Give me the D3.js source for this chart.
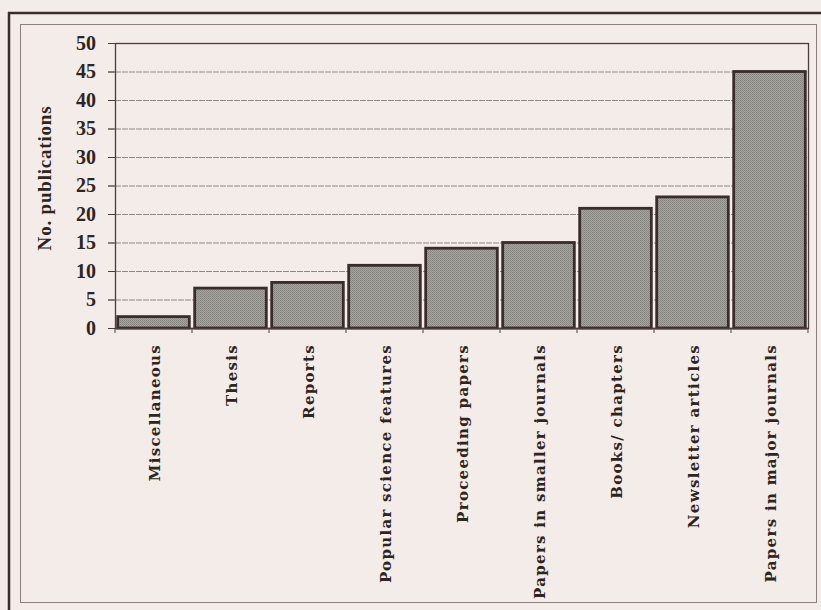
<!DOCTYPE html>
<html>
<head>
<meta charset="utf-8">
<script src="https://cdn.jsdelivr.net/npm/d3@7/dist/d3.min.js"></script>
<style>
  html, body { margin: 0; padding: 0; background: #f3ece8; }
  #chart { width: 821px; height: 610px; }
</style>
</head>
<body>
<div id="chart"></div>
<script>
// publication types and counts
const categories = [
    'Miscellaneous', 'Thesis', 'Reports', 'Popular science features',
    'Proceeding papers', 'Papers in smaller journals', 'Books/ chapters',
    'Newsletter articles', 'Papers in major journals'
];
const counts = [2, 7, 8, 11, 14, 15, 21, 23, 45];
const yTicks = [0, 5, 10, 15, 20, 25, 30, 35, 40, 45, 50];

const width = 821;
const height = 610;
const margin = { top: 43, right: 13, bottom: 282, left: 115 };
const ink = '#2e2422';

const svg = d3.select('#chart')
    .append('svg')
    .attr('width', width)
    .attr('height', height);

// dithered grey like the printed bars
const defs = svg.append('defs');
const pat = defs.append('pattern')
    .attr('id', 'dither')
    .attr('width', 2).attr('height', 2)
    .attr('patternUnits', 'userSpaceOnUse');
pat.append('rect').attr('width', 2).attr('height', 2).attr('fill', '#a6a49e');
pat.append('rect').attr('width', 1).attr('height', 1).attr('fill', '#84837d');
pat.append('rect').attr('x', 1).attr('y', 1).attr('width', 1).attr('height', 1).attr('fill', '#8d8c86');

// outer frame (thick top + left) and thin inner frame
svg.append('line')
    .attr('x1', 8).attr('x2', width).attr('y1', 13).attr('y2', 13)
    .style('stroke', '#3a2e2c').style('stroke-width', 2.5);
svg.append('line')
    .attr('x1', 9).attr('x2', 9).attr('y1', 12).attr('y2', height)
    .style('stroke', '#3a2e2c').style('stroke-width', 2.5);
svg.append('rect')
    .attr('x', 20.5).attr('y', 24.5)
    .attr('width', 796).attr('height', 578)
    .style('fill', 'none')
    .style('stroke', '#8a807e')
    .style('stroke-width', 1);

const x = d3.scaleBand()
    .domain(categories)
    .range([margin.left, width - margin.right])
    .paddingInner(0.07)
    .paddingOuter(0.035);

const y = d3.scaleLinear()
    .domain([0, 50])
    .range([height - margin.bottom, margin.top]);

// gridlines
svg.append('g')
    .selectAll('line')
    .data(yTicks.filter(d => d > 0 && d < 50))
    .join('line')
    .attr('x1', margin.left - 7)
    .attr('x2', width - margin.right)
    .attr('y1', d => y(d) + 0.5)
    .attr('y2', d => y(d) + 0.5)
    .style('stroke', '#8f8886')
    .style('stroke-width', 1)
    .style('stroke-dasharray', '6,1');

// plot border
svg.append('rect')
    .attr('x', margin.left + 0.5)
    .attr('y', y(50) + 0.5)
    .attr('width', width - margin.right - margin.left)
    .attr('height', y(0) - y(50))
    .style('fill', 'none')
    .style('stroke', '#4a3e3c')
    .style('stroke-width', 1.3);

// y axis
const yAxis = svg.append('g')
    .attr('transform', 'translate(' + margin.left + ',0)')
    .call(d3.axisLeft(y).tickValues(yTicks).tickSize(7).tickPadding(12));
yAxis.select('.domain').remove();
yAxis.selectAll('line').style('stroke', '#4a3e3c');
yAxis.selectAll('text')
    .style('font-family', '"Liberation Serif", "Times New Roman", serif')
    .style('font-weight', 'bold')
    .style('font-size', '20px')
    .style('fill', ink);

// y-axis label
svg.append('text')
    .attr('transform', 'translate(51,178)rotate(-90)')
    .attr('text-anchor', 'middle')
    .style('font-family', '"Liberation Serif", "Times New Roman", serif')
    .style('font-weight', 'bold')
    .style('font-size', '19px')
    .style('letter-spacing', '0.8px')
    .style('fill', ink)
    .text('No. publications');

// bars
svg.append('g')
    .selectAll('rect')
    .data(categories)
    .join('rect')
    .attr('x', d => x(d))
    .attr('y', (d, i) => y(counts[i]))
    .attr('width', x.bandwidth())
    .attr('height', (d, i) => y(0) - y(counts[i]))
    .style('fill', 'url(#dither)')
    .style('stroke', '#3a2c2a')
    .style('stroke-width', 2.8);

// baseline and category separator ticks
const half = x.step() * x.paddingInner() / 2;
svg.append('line')
    .attr('x1', margin.left).attr('x2', width - margin.right)
    .attr('y1', y(0) + 0.5).attr('y2', y(0) + 0.5)
    .style('stroke', '#4a3e3c').style('stroke-width', 1.3);
svg.append('g')
    .selectAll('line')
    .data(categories.concat(['end']))
    .join('line')
    .attr('x1', (d, i) => i < categories.length ? x(d) - half : x(categories[i - 1]) + x.bandwidth() + half)
    .attr('x2', (d, i) => i < categories.length ? x(d) - half : x(categories[i - 1]) + x.bandwidth() + half)
    .attr('y1', y(0))
    .attr('y2', y(0) + 5)
    .style('stroke', '#4a3e3c')
    .style('stroke-width', 1);

// category labels, rotated
svg.append('g')
    .selectAll('text')
    .data(categories)
    .join('text')
    .attr('transform', d => 'translate(' + (x(d) + x.bandwidth() / 2 + 6) + ',' + (y(0) + 16) + ')rotate(-90)')
    .attr('text-anchor', 'end')
    .style('font-family', '"DejaVu Serif", serif')
    .style('font-weight', 'bold')
    .style('font-size', '15px')
    .style('letter-spacing', '1.3px')
    .style('fill', ink)
    .text(d => d);
</script>
</body>
</html>
